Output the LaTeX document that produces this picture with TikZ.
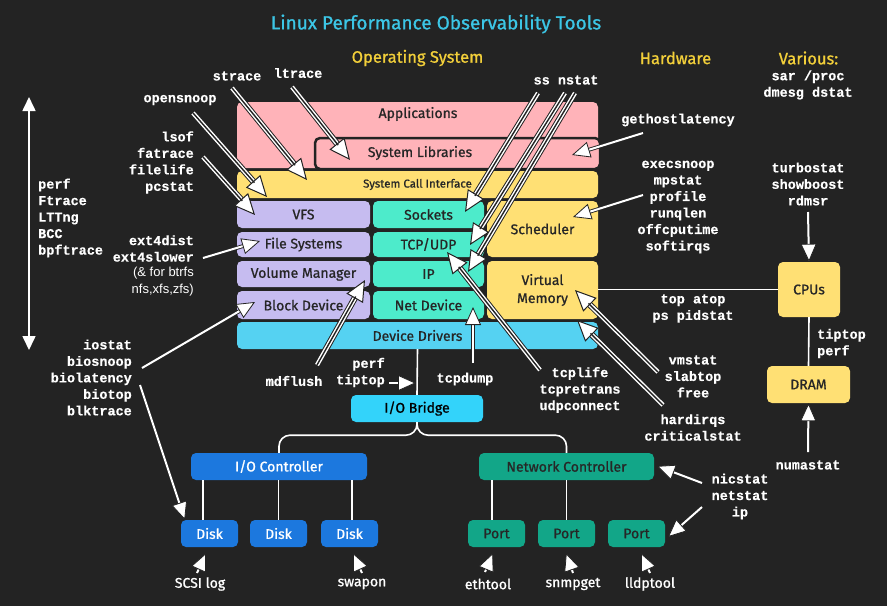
\documentclass[tikz,border=0pt]{standalone}
\usepackage{fontspec}
\setmainfont{Fira Sans}[FakeBold=0.9]
\newfontfamily\monof{Liberation Mono}[FakeBold=0.4]
\newfontfamily\arialf{Liberation Sans}
\usetikzlibrary{arrows.meta}
\definecolor{bg}{HTML}{232323}
\definecolor{titlec}{HTML}{3CC6E6}
\definecolor{heady}{HTML}{F2CF3A}
\definecolor{pinkc}{HTML}{FFB3B9}
\definecolor{yellowc}{HTML}{FFE074}
\definecolor{lavc}{HTML}{C6BCF0}
\definecolor{aquac}{HTML}{4DEBCB}
\definecolor{skyc}{HTML}{55D2F2}
\definecolor{bridgec}{HTML}{33D3FA}
\definecolor{bluec}{HTML}{1C78DE}
\definecolor{greenc}{HTML}{12A688}
\definecolor{inkc}{HTML}{262626}
\tikzset{
  box/.style={rounded corners=5pt, inner sep=0pt, text=inkc, font=\fontsize{14}{17}\selectfont, align=center},
  tool/.style={text=white, inner sep=0pt, font=\monof\bfseries\fontsize{13.5}{16.5}\selectfont, align=center},
  lbl/.style={text=white, inner sep=0pt, font=\fontsize{14}{16}\selectfont},
  wire/.style={draw=white, line width=1.6pt},
  sarr/.style={draw=white, line width=2pt,
    -{Triangle[color=bg, fill=white, line width=0.8pt, length=18pt, width=16pt]},
    preaction={draw=bg, line width=3.8pt, -, shorten >=12pt}},
  darr/.style={draw=white, line width=4.3pt,
    -{Triangle[color=bg, fill=white, line width=1pt, length=21pt, width=19pt]},
    preaction={draw=bg, line width=6.3pt, -, shorten >=15pt},
    postaction={draw=bg, line width=1.4pt, -, shorten >=19pt}},
}
\begin{document}
\begin{tikzpicture}[x=1pt,y=-1pt]
\fill[bg] (0,0) rectangle (887,606);
\useasboundingbox (0,0) rectangle (887,606);

% headings
\node[font=\fontsize{19}{22}\selectfont, text=titlec] (title) at (436,24) {Linux Performance Observability Tools};
\node[font=\fontsize{16.5}{19}\selectfont, text=heady] (hos) at (417.5,58) {Operating System};
\node[font=\fontsize{16.5}{19}\selectfont, text=heady] (hhw) at (675.5,58) {Hardware};
\node[font=\fontsize{16.5}{19}\selectfont, text=heady] (hva) at (808.5,58) {Various:};
\node[tool] (various) at (808,85) {sar /proc\\dmesg dstat};

% stack
\node[box, fill=pinkc, minimum width=361pt, minimum height=66pt] (app) at (417.5,135) {};
\node[box, text=inkc] (apptxt) at (418,114) {Applications};
\node[box, fill=pinkc, draw=bg, line width=2.5pt, minimum width=285pt, minimum height=31pt] (syslib) at (457.5,153.5) {};
\node[box] (syslibtxt) at (420,153) {System Libraries};
\node[box, fill=yellowc, minimum width=361pt, minimum height=27pt, font=\fontsize{11.5}{14}\selectfont] (sci) at (417.5,184.5) {System Call Interface};
\node[box, fill=lavc, minimum width=133pt, minimum height=27pt] (vfs) at (303.5,214.5) {VFS};
\node[box, fill=lavc, minimum width=133pt, minimum height=25pt] (fs) at (303.5,244.5) {File Systems};
\node[box, fill=lavc, minimum width=133pt, minimum height=26pt] (vol) at (303.5,274) {Volume Manager};
\node[box, fill=lavc, minimum width=133pt, minimum height=28pt] (bd) at (303.5,305) {Block Device};
\node[box, fill=aquac, minimum width=111pt, minimum height=27pt] (sock) at (428.5,214.5) {Sockets};
\node[box, fill=aquac, minimum width=111pt, minimum height=25pt] (tcp) at (428.5,244.5) {TCP/UDP};
\node[box, fill=aquac, minimum width=111pt, minimum height=26pt] (ip) at (428.5,274) {IP};
\node[box, fill=aquac, minimum width=111pt, minimum height=28pt] (nd) at (428.5,305) {Net Device};
\node[box, fill=yellowc, minimum width=111pt, minimum height=56pt] (sched) at (542.5,229) {Scheduler};
\node[box, fill=yellowc, minimum width=111pt, minimum height=58pt, font=\fontsize{14}{18}\selectfont] (virt) at (542.5,290) {Virtual\\Memory};
\node[box, fill=skyc, minimum width=361pt, minimum height=27pt] (dd) at (417.5,335.5) {Device Drivers};

% io path
\node[box, fill=bridgec, minimum width=132pt, minimum height=27pt, text=black] (bridge) at (417,408.5) {I/O Bridge};
\node[box, fill=bluec, minimum width=176pt, minimum height=27pt, text=white] (ioc) at (279,466.5) {I/O Controller};
\node[box, fill=bluec, minimum width=57pt, minimum height=27pt, text=white] (d1) at (209.5,533.5) {Disk};
\node[box, fill=bluec, minimum width=57pt, minimum height=27pt, text=white] (d2) at (278.5,533.5) {Disk};
\node[box, fill=bluec, minimum width=57pt, minimum height=27pt, text=white] (d3) at (349.5,533.5) {Disk};
\node[box, fill=greenc, minimum width=175pt, minimum height=27pt, text=inkc] (nc) at (566.5,466.5) {Network Controller};
\node[box, fill=greenc, minimum width=57pt, minimum height=27pt, text=inkc] (p1) at (496.5,533.5) {Port};
\node[box, fill=greenc, minimum width=57pt, minimum height=27pt, text=inkc] (p2) at (566.5,533.5) {Port};
\node[box, fill=greenc, minimum width=57pt, minimum height=27pt, text=inkc] (p3) at (636.5,533.5) {Port};

% hardware
\node[box, fill=yellowc, minimum width=62pt, minimum height=55pt] (cpu) at (809,289.5) {CPUs};
\node[box, fill=yellowc, minimum width=83pt, minimum height=37pt] (dram) at (808.5,384.5) {DRAM};

% wires
\draw[wire] (dd.south) -- (bridge.north);
\draw[wire, rounded corners=11pt] (bridge.south) -- ++(0,13) -| (ioc.north);
\draw[wire, rounded corners=11pt] (bridge.south) -- ++(0,13) -| (nc.north);
\draw[wire] ([xshift=-6.5pt]d1.north) -- ([xshift=-6.5pt]d1.north |- ioc.south);
\draw[wire] (d2.north) -- (d2.north |- ioc.south);
\draw[wire] ([xshift=2.5pt]d3.north) -- ([xshift=2.5pt]d3.north |- ioc.south);
\draw[wire] ([xshift=-4.5pt]p1.north) -- ([xshift=-4.5pt]p1.north |- nc.south);
\draw[wire] (p2.north) -- (p2.north |- nc.south);
\draw[wire] (virt.east |- cpu.west) -- (cpu.west);
\draw[wire] (cpu.south) -- (dram.north);

% left range arrow
\draw[draw=white, line width=1.6pt, {Triangle[length=14pt,width=13pt]}-{Triangle[length=14pt,width=13pt]}] (29,97) coordinate (rtop) -- (29,350) coordinate (rbot);

% tool labels
\node[tool] (strace) at (237,76) {strace};
\node[tool] (ltrace) at (298,73) {ltrace};
\node[tool] (opensnoop) at (180,100) {opensnoop};
\node[tool, align=right, anchor=east] (lsof) at (194,162.5) {lsof\\fatrace\\filelife\\pcstat};
\node[tool, align=left, anchor=west] (perfl) at (38,218) {perf\\Ftrace\\LTTng\\BCC\\bpftrace};
\node[tool, align=right, anchor=east] (ext4) at (194,248.5) {ext4dist\\ext4slower};
\node[text=white, inner sep=0pt, font=\arialf\fontsize{13}{16.5}\selectfont, align=right, anchor=east] (btrfs) at (194,281.5) {(\& for btrfs\\nfs,xfs,zfs)};
\node[tool, align=right, anchor=east] (iostat) at (132,377.5) {iostat\\biosnoop\\biolatency\\biotop\\blktrace};
\node[tool] (mdflush) at (294,381) {mdflush};
\node[tool, align=right, anchor=east] (perftip) at (385,372.5) {perf\\tiptop};
\node[tool] (tcpdump) at (465,379) {tcpdump};
\node[tool] (tcplife) at (580,390) {tcplife\\tcpretrans\\udpconnect};
\node[tool] (ssn) at (566,80) {ss nstat};
\node[tool] (gethost) at (678,120) {gethostlatency};
\node[tool] (execs) at (678,207) {execsnoop\\mpstat\\profile\\runqlen\\offcputime\\softirqs};
\node[tool] (turbo) at (808,184) {turbostat\\showboost\\rdmsr};
\node[tool] (topatop) at (693,308.5) {top atop\\ps pidstat};
\node[tool, align=left, anchor=west] (tiptopr) at (817,343.5) {tiptop\\perf};
\node[tool] (vmstat) at (693,376.5) {vmstat\\slabtop\\free};
\node[tool] (hardirqs) at (693,427.5) {hardirqs\\criticalstat};
\node[tool] (numastat) at (808,465) {numastat};
\node[tool] (nicstat) at (740,496.5) {nicstat\\netstat\\ip};
\node[lbl] (scsi) at (200,584) {SCSI log};
\node[lbl] (swapon) at (362,584) {swapon};
\node[lbl] (ethtool) at (488,584) {ethtool};
\node[lbl] (snmpget) at (573,584) {snmpget};
\node[lbl] (lldptool) at (650,584) {lldptool};

% double arrows
\draw[darr] (232,88) -- (307,180);
\draw[darr] (292,87) -- (350,160);
\draw[darr] (193,113) -- (267,197);
\draw[darr] (203,157) -- (255,215);
\draw[darr] (538,93) -- (465,212);
\draw[darr] (565,93) -- (470,245);
\draw[darr] (575,93) -- (468,272);
\draw[darr] (540,370) -- (447,252);
\draw[darr] (658,372) -- (575,290);
\draw[darr] (663,405) -- (577,320);
\draw[darr] (317,365) -- (365,280);

% single arrows
\draw[sarr] (643,133) -- (572,155);
\draw[sarr] (643,195) -- (573,217);
\draw[sarr] (203,258) -- (260,241);
\draw[sarr] (142,368) -- (255,302);
\draw[sarr] (473,363) -- (473,307);
\draw[sarr] (140,385) -- (185,520);
\draw[sarr] (389,383) -- (416,383);
\draw[sarr] (808,212) -- (cpu.north);
\draw[sarr] (808,452) -- (dram.south);
\draw[sarr] (702,483) -- (657,466);
\draw[sarr] (702,507) -- (668,537);
\draw[sarr] (197,573) -- (206,553);
\draw[sarr] (362,573) -- (353,553);
\draw[sarr] (485,572) -- (493,553);
\draw[sarr] (573,573) -- (566,553);
\draw[sarr] (650,573) -- (641,553);
\end{tikzpicture}
\end{document}
